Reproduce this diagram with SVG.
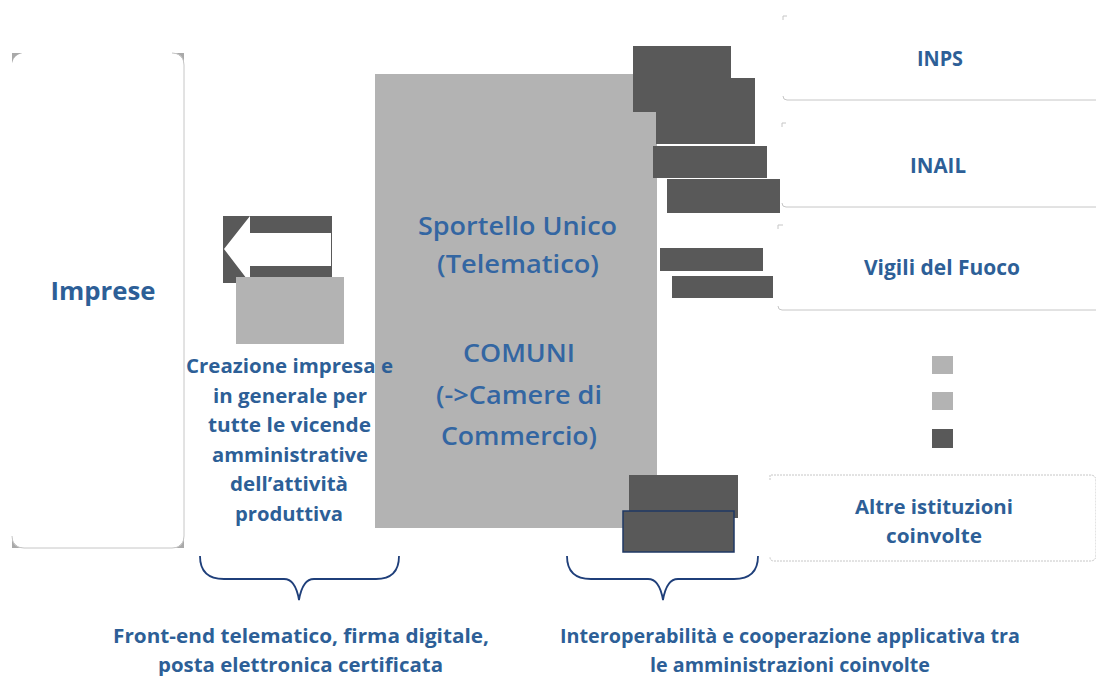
<svg xmlns="http://www.w3.org/2000/svg" width="1096" height="676" viewBox="0 0 1096 676">
<defs>
<style>
.t{font-family:"Open Sans","Noto Sans","Liberation Sans",sans-serif;fill:#2d5f97;text-anchor:middle;font-weight:bold}
.c{font-size:25px;font-weight:600;fill:#3366a2}
.s{font-size:20px}
.m{font-size:21px}
.lg{fill:#b3b3b3}
.dk{fill:#595959}
.edge{fill:none;stroke:#c6c6c6;stroke-width:1}
.brace{fill:none;stroke:#1f3f7a;stroke-width:1.8}
.cm{fill:#a9a9a9}
</style>
</defs>
<rect width="1096" height="676" fill="#ffffff"/>

<g id="imprese">
<rect class="cm" x="12" y="53" width="10" height="10"/>
<rect class="cm" x="174" y="53" width="10" height="10"/>
<rect class="cm" x="12" y="538" width="10" height="10"/>
<rect class="cm" x="174" y="538" width="10" height="10"/>
<rect x="12" y="53" width="172" height="495" rx="12" fill="#ffffff"/>
<path class="edge" d="M172,53 Q184,53 184,65 L184,536 Q184,548 172,548 L24,548 Q12,548 12,536"/>
<text class="t" x="103" y="300" style="font-size:25px" textLength="105" lengthAdjust="spacingAndGlyphs">Imprese</text>
</g>

<g id="frontend-icon">
<rect class="dk" x="223" y="216" width="109" height="67"/>
<polygon points="224,249 250,216 250,233 331,233 331,266 250,266 250,283" fill="#ffffff"/>
<rect class="lg" x="236" y="277" width="108" height="67"/>
</g>

<g id="sportello">
<rect class="lg" x="375" y="74" width="282" height="454"/>
<text class="t c" x="517.5" y="235" textLength="199" lengthAdjust="spacingAndGlyphs">Sportello Unico</text>
<text class="t c" x="518" y="273" textLength="162" lengthAdjust="spacingAndGlyphs">(Telematico)</text>
<text class="t c" x="519" y="362" textLength="112" lengthAdjust="spacingAndGlyphs">COMUNI</text>
<text class="t c" x="519" y="404" textLength="166" lengthAdjust="spacingAndGlyphs">(-&gt;Camere di</text>
<text class="t c" x="519" y="445" textLength="156" lengthAdjust="spacingAndGlyphs">Commercio)</text>
</g>

<g id="creazione">
<text class="t s" x="289.5" y="373" textLength="207" lengthAdjust="spacingAndGlyphs">Creazione impresa e</text>
<text class="t s" x="290" y="403" textLength="154" lengthAdjust="spacingAndGlyphs">in generale per</text>
<text class="t s" x="289.5" y="432" textLength="163" lengthAdjust="spacingAndGlyphs">tutte le vicende</text>
<text class="t s" x="290" y="462" textLength="156" lengthAdjust="spacingAndGlyphs">amministrative</text>
<text class="t s" x="289" y="491" textLength="118" lengthAdjust="spacingAndGlyphs">dell’attività</text>
<text class="t s" x="289" y="521" textLength="108" lengthAdjust="spacingAndGlyphs">produttiva</text>
</g>

<g id="interop-blocks">
<rect class="dk" x="633" y="46" width="98" height="66"/>
<rect class="dk" x="656" y="78" width="99" height="66"/>
<rect class="dk" x="653" y="146" width="114" height="32"/>
<rect class="dk" x="667" y="179" width="113" height="34"/>
<rect class="dk" x="660" y="248" width="103" height="23"/>
<rect class="dk" x="672" y="276" width="101" height="22"/>
<rect class="dk" x="629" y="475" width="109" height="43"/>
<rect class="dk" x="623" y="511" width="111" height="41" stroke="#1f3864" stroke-width="1.5"/>
</g>

<g id="inps">
<path class="edge" d="M783,20 L783,16 L787,16"/>
<path class="edge" d="M783,96 Q783,100 787,100 L1096,100"/>
<text class="t m" x="940" y="66" textLength="46" lengthAdjust="spacingAndGlyphs">INPS</text>
</g>

<g id="inail">
<path class="edge" d="M782,127 L782,123 L786,123"/>
<path class="edge" d="M782,203 Q782,207 786,207 L1096,207"/>
<text class="t m" x="938" y="173" textLength="56" lengthAdjust="spacingAndGlyphs">INAIL</text>
</g>

<g id="vigili">
<path class="edge" d="M778,229 L778,225 L783,225"/>
<path class="edge" d="M778,306 Q778,310 782,310 L1096,310"/>
<text class="t m" x="942" y="275" textLength="156" lengthAdjust="spacingAndGlyphs">Vigili del Fuoco</text>
</g>

<g id="dots">
<rect class="lg" x="932" y="356" width="21" height="18"/>
<rect class="lg" x="932" y="392" width="21" height="18"/>
<rect class="dk" x="932" y="429" width="21" height="19"/>
</g>

<g id="altre">
<path class="edge" d="M770,480 L770,475 L1090,475 Q1096,475 1096,481 L1096,555 Q1096,561 1090,561 L774,561 Q770,561 770,557" stroke-dasharray="2 1"/>
<text class="t s" x="934" y="514" textLength="158" lengthAdjust="spacingAndGlyphs">Altre istituzioni</text>
<text class="t s" x="934" y="543" textLength="96" lengthAdjust="spacingAndGlyphs">coinvolte</text>
</g>

<g id="connectors">
<path class="brace" d="M200,556 C200,570 207,579 224,579 L284,579 C293,579 297,588 299,600 C301,588 305,579 314,579 L376,579 C393,579 399,570 399,556"/>
<path class="brace" d="M567,556 C567,570 574,579 591,579 L648,579 C657,579 661,588 663,600 C665,588 669,579 678,579 L734,579 C751,579 758,570 758,556"/>
</g>

<g id="label-frontend">
<text class="t s" x="301" y="643" textLength="376" lengthAdjust="spacingAndGlyphs">Front-end telematico, firma digitale,</text>
<text class="t s" x="300.5" y="672" textLength="285" lengthAdjust="spacingAndGlyphs">posta elettronica certificata</text>
</g>

<g id="label-interop">
<text class="t s" x="790" y="643" textLength="460" lengthAdjust="spacingAndGlyphs">Interoperabilità e cooperazione applicativa tra</text>
<text class="t s" x="790" y="672" textLength="280" lengthAdjust="spacingAndGlyphs">le amministrazioni coinvolte</text>
</g>
</svg>
